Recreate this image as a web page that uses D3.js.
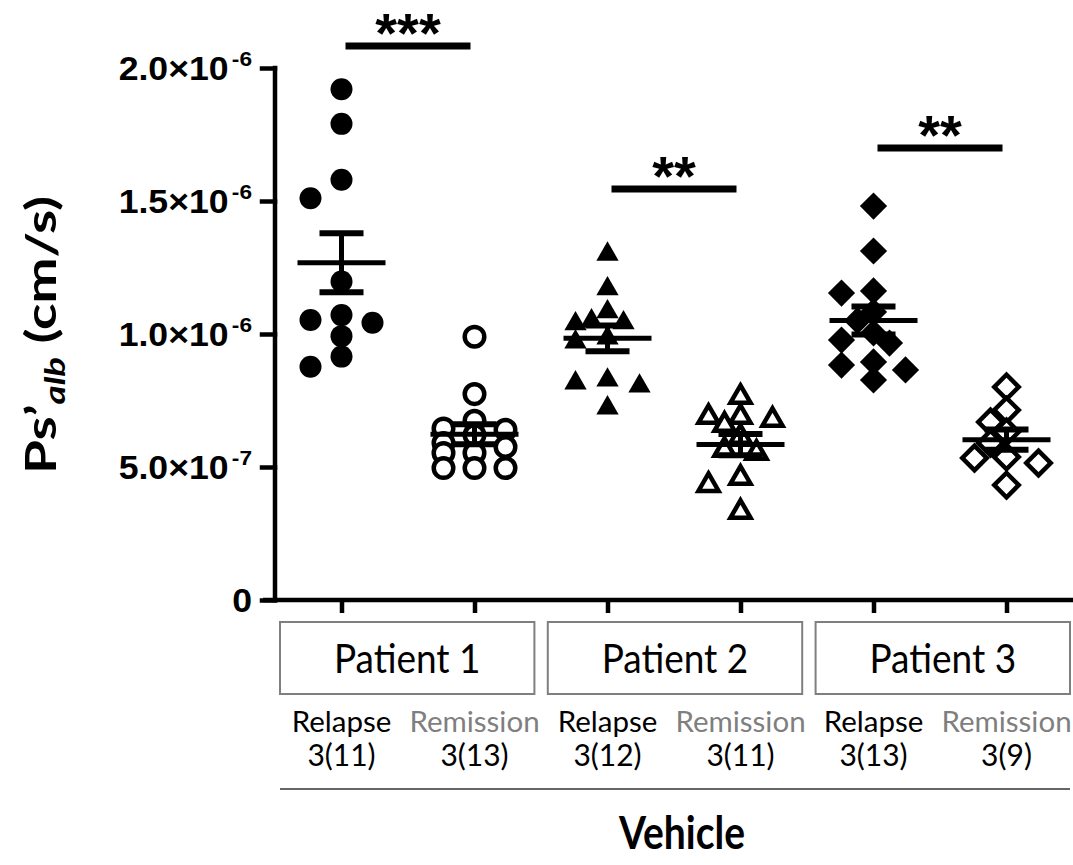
<!DOCTYPE html>
<html>
<head>
<meta charset="utf-8">
<script src="https://cdn.jsdelivr.net/npm/d3@7"></script>
<style>
body { margin: 0; background: #fff; }
</style>
</head>
<body>
<svg class="canvas"></svg>
<script>
// groups along the x axis
var groups = ["p1rel", "p1rem", "p2rel", "p2rem", "p3rel", "p3rem"];
var patients = ["Patient 1", "Patient 2", "Patient 3"];
var states = ["Relapse", "Remission", "Relapse", "Remission", "Relapse", "Remission"];
var counts = ["3(11)", "3(13)", "3(12)", "3(11)", "3(13)", "3(9)"];

// Ps'alb values (cm/s)
var p1Relapse = [1.92e-6, 1.79e-6, 1.58e-6, 1.51e-6, 1.197e-6, 1.071e-6, 1.053e-6, 1.042e-6, 0.992e-6, 0.915e-6, 0.877e-6];
var p1Remission = [0.99e-6, 0.774e-6, 0.674e-6, 0.645e-6, 0.64e-6, 0.62e-6, 0.59e-6, 0.575e-6, 0.553e-6, 0.553e-6, 0.496e-6, 0.496e-6, 0.496e-6];
var p2Relapse = [1.30e-6, 1.17e-6, 1.083e-6, 1.049e-6, 1.042e-6, 1.038e-6, 0.985e-6, 0.97e-6, 0.827e-6, 0.816e-6, 0.804e-6, 0.722e-6];
var p2Remission = [0.763e-6, 0.688e-6, 0.688e-6, 0.677e-6, 0.658e-6, 0.613e-6, 0.564e-6, 0.553e-6, 0.459e-6, 0.432e-6, 0.331e-6];
var p3Relapse = [1.481e-6, 1.312e-6, 1.162e-6, 1.154e-6, 1.083e-6, 1.05e-6, 1.004e-6, 0.977e-6, 0.966e-6, 0.895e-6, 0.883e-6, 0.865e-6, 0.827e-6];
var p3Remission = [0.801e-6, 0.714e-6, 0.669e-6, 0.632e-6, 0.59e-6, 0.538e-6, 0.534e-6, 0.515e-6, 0.432e-6];

var series = [p1Relapse, p1Remission, p2Relapse, p2Remission, p3Relapse, p3Remission];

var yTicks = [0, 5e-7, 1e-6, 1.5e-6, 2e-6];

// significance brackets: pair of groups, level, label
var sigPairs = [[0, 1], [2, 3], [4, 5]];
var sigLevels = [2.083e-6, 1.545e-6, 1.699e-6];
var sigLabels = ["***", "**", "**"];

var width = 1073,
	height = 865;

var MARKER = ["circle", "circle", "triangle", "triangle", "diamond", "diamond"];
var FILLED = [true, false, true, false, true, false];
var SWARM_STEP = [31, 31, 16, 16, 16, 16];
var SWARM_MAX = [1, 1, 2, 2, 2, 2];

var svg = d3.select(".canvas")
	.attr("width", width)
	.attr("height", height);

var y = d3.scaleLinear().domain([0, 2e-6]).range([600, 68]);
var x = d3.scalePoint().domain(groups).range([275, 1073]).padding(0.5);

// y axis
var yAxis = svg.append("g")
	.attr("transform", "translate(275,0)")
	.call(d3.axisLeft(y).tickValues(yTicks).tickSize(13).tickSizeOuter(0).tickFormat(""));
yAxis.selectAll("path, line").attr("stroke", "#000").attr("stroke-width", 4.5).attr("stroke-linecap", "square");
yAxis.select(".domain").attr("d", "M0," + y(0) + "V" + y(2e-6));

yAxis.selectAll(".tick").append("text")
	.attr("x", 0)
	.attr("y", 0)
	.attr("dy", "0.36em")
	.attr("transform", "translate(-23,0) scale(1.08,1)")
	.attr("text-anchor", "end")
	.attr("fill", "#000")
	.style("font-family", "'Liberation Sans', Arial, sans-serif")
	.style("font-weight", "bold")
	.style("font-size", "33px")
	.each(function(d) {
		var t = d3.select(this);
		if (d === 0) { t.text("0"); return; }
		var e = Math.floor(Math.log10(d) + 1e-9);
		var m = d / Math.pow(10, e);
		t.append("tspan").text(m.toFixed(1) + "\u00d710");
		t.append("tspan").attr("dx", 3).attr("dy", -14).style("font-size", "21px").text(e);
	});

// x axis
var xAxis = svg.append("g")
	.attr("transform", "translate(0,600)")
	.call(d3.axisBottom(x).tickSize(13).tickSizeOuter(0).tickFormat(""));
xAxis.selectAll("path, line").attr("stroke", "#000").attr("stroke-width", 4.5);
xAxis.select(".domain").attr("d", "M263,0H1073");

// points
function swarm(vals, step, maxSlot, minDist) {
	var order = d3.range(vals.length).sort(function(a, b) { return vals[b] - vals[a]; });
	var cands = [0];
	for (var k = 1; k <= maxSlot; k++) cands.push(-k, k);
	var placed = [], slots = [];
	order.forEach(function(i) {
		var py = y(vals[i]), best = 0, bestD = -1;
		for (var c = 0; c < cands.length; c++) {
			var px = cands[c] * step;
			var dmin = placed.length ? d3.min(placed, function(p) { return Math.hypot(p[0] - px, p[1] - py); }) : Infinity;
			if (dmin >= minDist) { best = cands[c]; break; }
			if (dmin > bestD) { bestD = dmin; best = cands[c]; }
		}
		slots[i] = best;
		placed.push([best * step, py]);
	});
	return slots;
}

function symbolPath(kind, filled) {
	if (kind === "circle") return d3.symbol(d3.symbolCircle, filled ? 380 : 300)();
	if (kind === "triangle") return d3.symbol(d3.symbolTriangle, filled ? 215 : 175)();
	return d3.symbol(d3.symbolSquare, filled ? 370 : 300)();
}

series.forEach(function(vals, gi) {
	var slots = swarm(vals, SWARM_STEP[gi], SWARM_MAX[gi], MARKER[gi] === "circle" ? 20 : 18);
	var g = svg.append("g").attr("class", "grp");
	g.selectAll("path").data(vals).enter().append("path")
		.attr("d", symbolPath(MARKER[gi], FILLED[gi]))
		.attr("transform", function(d, i) {
			var t = "translate(" + (x(groups[gi]) + slots[i] * SWARM_STEP[gi]) + "," + y(d) + ")";
			return MARKER[gi] === "diamond" ? t + " rotate(45)" : t;
		})
		.attr("fill", FILLED[gi] ? "#000" : "#fff")
		.attr("stroke", "#000")
		.attr("stroke-width", FILLED[gi] ? 0 : 4.5)
		.attr("stroke-linejoin", "miter");

	// mean and SEM
	var mean = d3.mean(vals);
	var sem = d3.deviation(vals) / Math.sqrt(vals.length);
	var cx = x(groups[gi]);
	g.append("line").attr("x1", cx - 44).attr("x2", cx + 44).attr("y1", y(mean)).attr("y2", y(mean))
		.attr("stroke", "#000").attr("stroke-width", 5);
	g.append("line").attr("x1", cx).attr("x2", cx).attr("y1", y(mean + sem)).attr("y2", y(mean - sem))
		.attr("stroke", "#000").attr("stroke-width", 5);
	[mean + sem, mean - sem].forEach(function(v) {
		g.append("line").attr("x1", cx - 22).attr("x2", cx + 22).attr("y1", y(v)).attr("y2", y(v))
			.attr("stroke", "#000").attr("stroke-width", 6);
	});
});

// significance bars
sigPairs.forEach(function(p, i) {
	var x1 = x(groups[p[0]]) + 4, x2 = x(groups[p[1]]) - 4;
	svg.append("line").attr("x1", x1).attr("x2", x2).attr("y1", y(sigLevels[i])).attr("y2", y(sigLevels[i]))
		.attr("stroke", "#000").attr("stroke-width", 7);
	svg.append("text")
		.attr("x", (x1 + x2) / 2)
		.attr("y", y(sigLevels[i]) + 6)
		.attr("text-anchor", "middle")
		.style("font-family", "'Liberation Sans', Arial, sans-serif")
		.style("font-weight", "bold")
		.style("font-size", "56px")
		.text(sigLabels[i]);
});

// patient boxes
var band = d3.scaleBand().domain(patients).range([280, 1070]).paddingInner(0.05);
var boxes = svg.selectAll("g.box").data(patients).enter().append("g")
	.attr("class", "box")
	.attr("transform", function(d) { return "translate(" + band(d) + ",622)"; });
boxes.append("rect")
	.attr("width", band.bandwidth())
	.attr("height", 72)
	.attr("fill", "#fff")
	.attr("stroke", "#7f7f7f")
	.attr("stroke-width", 2);
boxes.append("text")
	.attr("x", band.bandwidth() / 2)
	.attr("y", 51)
	.attr("text-anchor", "middle")
	.attr("transform", "scale(1,1.1)")
	.attr("transform-origin", "0 51")
	.style("font-family", "Lato, sans-serif")
	.style("font-size", "37px")
	.text(function(d) { return d; });

// group labels
var labels = svg.selectAll("g.lab").data(groups).enter().append("g")
	.attr("class", "lab")
	.attr("transform", function(d) { return "translate(" + x(d) + ",0)"; });
labels.append("text")
	.attr("y", 732)
	.attr("text-anchor", "middle")
	.attr("fill", function(d, i) { return states[i] === "Remission" ? "#7f7f7f" : "#000"; })
	.style("font-family", "Lato, sans-serif")
	.style("font-size", "29.5px")
	.text(function(d, i) { return states[i]; });
labels.append("text")
	.attr("y", 766)
	.attr("text-anchor", "middle")
	.attr("fill", "#000")
	.style("font-family", "Lato, sans-serif")
	.style("font-size", "30px")
	.text(function(d, i) { return counts[i]; });

svg.append("line").attr("x1", 280).attr("x2", 1070).attr("y1", 789).attr("y2", 789)
	.attr("stroke", "#333").attr("stroke-width", 1.5);

svg.append("text")
	.attr("x", 682)
	.attr("y", 849)
	.attr("text-anchor", "middle")
	.attr("textLength", 126)
	.attr("lengthAdjust", "spacingAndGlyphs")
	.style("font-family", "Lato, sans-serif")
	.style("font-weight", "bold")
	.style("font-size", "46px")
	.text("Vehicle");

// y axis title
var yt = svg.append("text")
	.attr("transform", "translate(56,335) rotate(-90)")
	.attr("text-anchor", "middle")
	.attr("textLength", 278)
	.attr("lengthAdjust", "spacingAndGlyphs")
	.style("font-family", "Lato, sans-serif")
	.style("font-weight", "bold")
	.style("font-size", "42px");
yt.append("tspan").text("Ps\u2019");
yt.append("tspan").attr("dy", 9).style("font-size", "28px").style("font-style", "italic").text("alb");
yt.append("tspan").attr("dy", -9).text(" (cm/s)");
</script>
</body>
</html>
